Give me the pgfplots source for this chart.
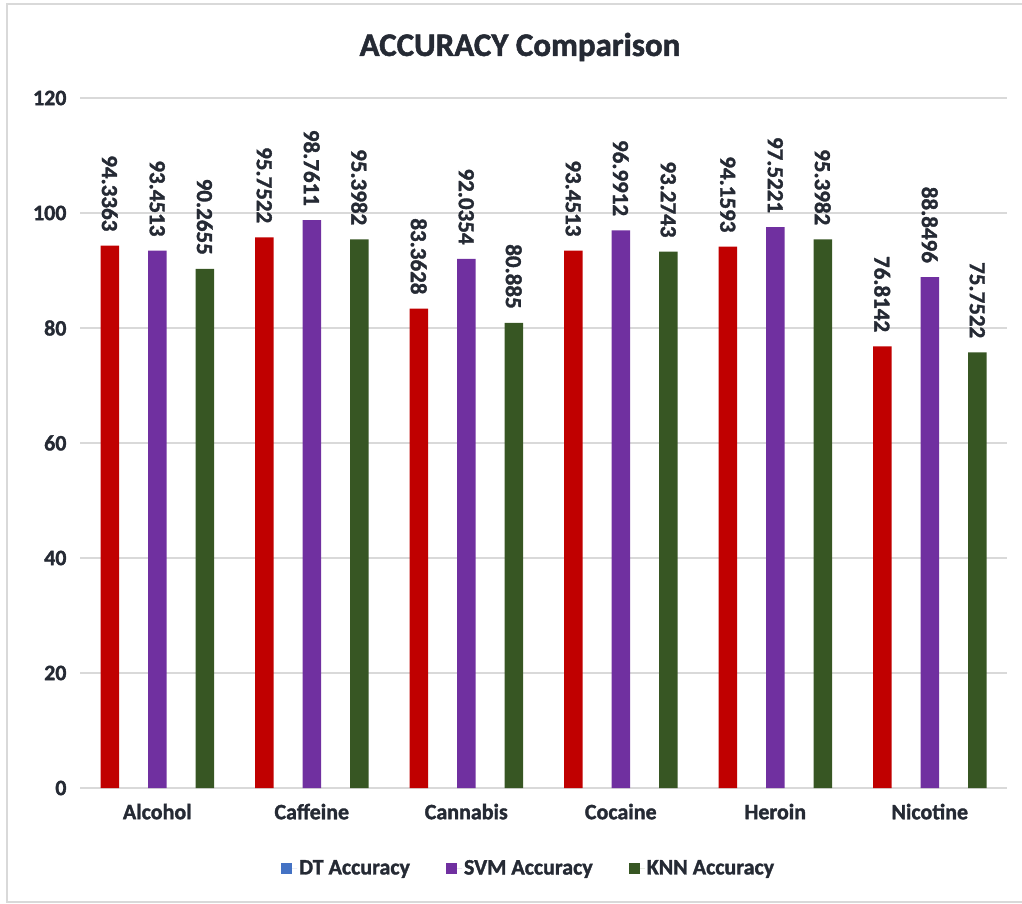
\documentclass[border=0pt]{standalone}
\usepackage{fontspec}
\setmainfont{Carlito}[BoldFeatures={FakeBold=1.5}]
\usepackage{pgfplots}
\pgfplotsset{compat=1.18}
\definecolor{dtred}{HTML}{C00000}
\definecolor{svmpurple}{HTML}{7030A0}
\definecolor{knngreen}{HTML}{375623}
\definecolor{dtblue}{HTML}{4472C4}
\definecolor{txt}{HTML}{252A34}
\definecolor{gridgray}{HTML}{D9D9D9}
\begin{document}
\begin{tikzpicture}[x=1pt,y=1pt]
\useasboundingbox (0,0) rectangle (1022,903);
\draw[gridgray, line width=1.6pt] (7,1) rectangle (1040,899);
\begin{axis}[
  at={(80pt,115pt)}, anchor=south west,
  scale only axis, width=927pt, height=690pt,
  xmin=-0.5, xmax=5.5, ymin=0, ymax=120,
  xtick={0,1,2,3,4,5},
  xticklabels={Alcohol,Caffeine,Cannabis,Cocaine,Heroin,Nicotine},
  ytick={0,20,40,60,80,100,120},
  ymajorgrids, grid style={gridgray, line width=1.3pt},
  axis line style={draw=none}, tick style={draw=none},
  tick label style={font=\fontsize{22}{26}\selectfont\bfseries, text=txt},
  yticklabel style={xshift=-10pt},
  xticklabel style={yshift=-8pt},
  /pgf/number format/assume math mode=true,
  ybar, bar width=18.5pt,
  nodes near coords={\pgfmathprintnumber[fixed,precision=4,assume math mode=true]{\pgfplotspointmeta}},
  every node near coord/.append style={font=\fontsize{23}{26}\selectfont\bfseries, text=txt, yshift=14pt, rotate=-90, anchor=east, inner sep=0pt},
  legend columns=3,
  legend style={at={(0.484,-0.116)}, anchor=center, draw=none, fill=none,
    font=\fontsize{22}{26}\selectfont\bfseries, text=txt,
    /tikz/every even column/.append style={column sep=34pt}},
  legend image code/.code={\fill[#1] (0pt,-5.5pt) rectangle (11pt,5.5pt); \path (0pt,0pt) -- (16pt,0pt);},
]
\addlegendimage{fill=dtblue, draw=none}
\addlegendentry{DT Accuracy}
\addlegendimage{fill=svmpurple, draw=none}
\addlegendentry{SVM Accuracy}
\addlegendimage{fill=knngreen, draw=none}
\addlegendentry{KNN Accuracy}
\addplot[fill=dtred, draw=none, bar shift=-47.5pt, forget plot] coordinates {(0,94.3363) (1,95.7522) (2,83.3628) (3,93.4513) (4,94.1593) (5,76.8142)};
\addplot[fill=svmpurple, draw=none, bar shift=0pt, forget plot] coordinates {(0,93.4513) (1,98.7611) (2,92.0354) (3,96.9912) (4,97.5221) (5,88.8496)};
\addplot[fill=knngreen, draw=none, bar shift=47.5pt, forget plot] coordinates {(0,90.2655) (1,95.3982) (2,80.885) (3,93.2743) (4,95.3982) (5,75.7522)};
\end{axis}
\node[font=\fontsize{33}{36}\selectfont\bfseries, text=txt] at (520,856) {ACCURACY Comparison};
\end{tikzpicture}
\end{document}
